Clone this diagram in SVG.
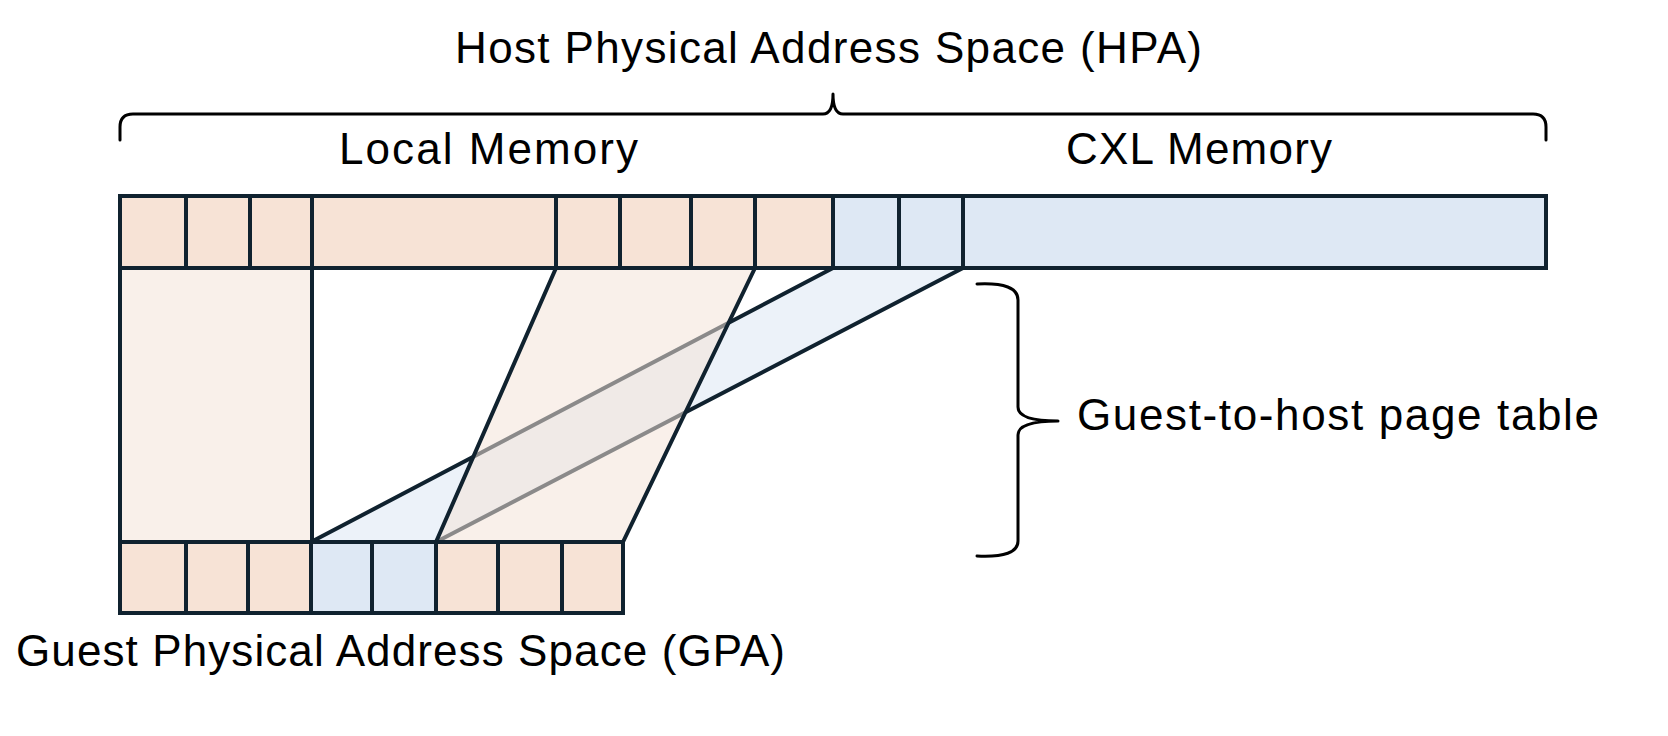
<svg xmlns="http://www.w3.org/2000/svg" width="1668" height="736" viewBox="0 0 1668 736">
<style>
  .lbl { font-family: "Liberation Sans", Arial, sans-serif; font-size: 44px; fill: #000; }
  .po { fill: #f7e3d6; stroke: #10222f; stroke-width: 4; }
  .pb { fill: #dee8f4; stroke: #10222f; stroke-width: 4; }
  .mapo { fill: #f4e3d8; fill-opacity: 0.54; stroke: #10222f; stroke-width: 4; stroke-linejoin: round; }
  .mapb { fill: #dde8f4; fill-opacity: 0.55; stroke: #10222f; stroke-width: 4; stroke-linejoin: round; }
  .brace { fill: none; stroke: #000; stroke-width: 3; stroke-linecap: round; stroke-linejoin: round; }
</style>
<rect width="1668" height="736" fill="#fff"/>

<g id="connectors">
  <path id="map-left" class="mapo" d="M120,268 L312,268 L312,542 L120,542 Z"/>
  <path id="map-cxl" class="mapb" d="M833,268 L963,268 L436,542 L311,542 Z"/>
  <path id="map-local" class="mapo" d="M556,268 L755,268 L623,542 L436,542 Z"/>
</g>

<g id="hpa-bar">
  <rect class="po" x="120" y="196" width="66" height="72"/>
  <rect class="po" x="186" y="196" width="64" height="72"/>
  <rect class="po" x="250" y="196" width="62" height="72"/>
  <rect class="po" x="312" y="196" width="244" height="72"/>
  <rect class="po" x="556" y="196" width="64" height="72"/>
  <rect class="po" x="620" y="196" width="71" height="72"/>
  <rect class="po" x="691" y="196" width="64" height="72"/>
  <rect class="po" x="755" y="196" width="78" height="72"/>
  <rect class="pb" x="833" y="196" width="66" height="72"/>
  <rect class="pb" x="899" y="196" width="64" height="72"/>
  <rect class="pb" x="963" y="196" width="583" height="72"/>
</g>

<g id="gpa-bar">
  <rect class="po" x="120" y="542" width="66" height="71"/>
  <rect class="po" x="186" y="542" width="62" height="71"/>
  <rect class="po" x="248" y="542" width="63" height="71"/>
  <rect class="pb" x="311" y="542" width="61" height="71"/>
  <rect class="pb" x="372" y="542" width="64" height="71"/>
  <rect class="po" x="436" y="542" width="62" height="71"/>
  <rect class="po" x="498" y="542" width="64" height="71"/>
  <rect class="po" x="562" y="542" width="61" height="71"/>
</g>

<g id="hpa-brace">
  <path class="brace" d="M120,140 L120,127 Q120,114 133,114 L823,114 Q833,114 833,94 Q833,114 843,114 L1533,114 Q1546,114 1546,127 L1546,140"/>
</g>

<g id="pt-brace">
  <path class="brace" d="M977,284 Q1018,282 1018,300 L1018,407 Q1018,421 1058,421 Q1018,421 1018,435 L1018,541 Q1018,558 977,556"/>
</g>

<g id="labels">
  <text id="t-hpa" class="lbl" x="455" y="63" textLength="747" lengthAdjust="spacing">Host Physical Address Space (HPA)</text>
  <text id="t-local" class="lbl" x="339" y="164" textLength="299" lengthAdjust="spacing">Local Memory</text>
  <text id="t-cxl" class="lbl" x="1066" y="164" textLength="266" lengthAdjust="spacing">CXL Memory</text>
  <text id="t-pt" class="lbl" x="1077" y="430" textLength="522" lengthAdjust="spacing">Guest-to-host page table</text>
  <text id="t-gpa" class="lbl" x="16" y="666" textLength="769" lengthAdjust="spacing">Guest Physical Address Space (GPA)</text>
</g>
</svg>
